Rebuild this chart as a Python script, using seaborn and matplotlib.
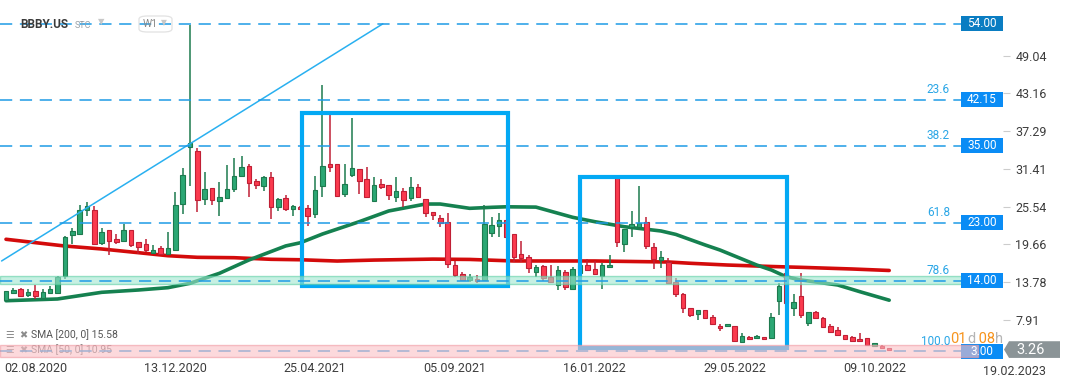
import numpy as np
import pandas as pd
import seaborn as sns
import matplotlib.pyplot as plt
import matplotlib.transforms as mtransforms
from matplotlib.patches import Rectangle, Polygon, FancyBboxPatch

# weekly candles, first candle = week of 05.07.2020
first_week = "2020-07-05"
opens = [10.93, 12.12, 12.65, 11.81, 12.34, 11.34, 12.12, 12.12, 14.72, 21.10,
         21.31, 24.95, 25.00, 19.91, 21.84, 20.44, 20.22, 21.84, 19.97, 19.66,
         18.35, 19.03, 18.15, 18.77, 25.98, 34.77, 34.19, 26.67, 28.38, 26.36,
         26.92, 28.22, 30.25, 31.85, 29.47, 28.70, 30.10, 25.40, 26.80, 25.20,
         25.47, 25.26, 24.33, 28.80, 32.17, 32.17, 27.45, 30.40, 31.34, 29.83,
         26.45, 29.00, 28.85, 27.07, 27.96, 26.82, 28.54, 26.67, 24.64, 23.70,
         23.08, 16.39, 14.98, 14.10, 14.30, 14.10, 21.46, 22.55, 23.44, 21.26,
         18.15, 17.63, 15.39, 16.28, 14.52, 13.32, 15.30, 12.65, 15.24, 16.39,
         15.81, 14.77, 16.07, 29.94, 19.66, 22.30, 22.30, 23.08, 19.19, 17.16,
         16.95, 13.74, 11.92, 9.69, 8.75, 9.38, 8.38, 6.93, 6.88, 6.93,
         4.49, 5.17, 5.01, 5.17, 5.01, 10.87, 15.14, 9.69, 11.56, 7.35,
         9.07, 8.13, 6.93, 6.31, 5.48, 5.17, 4.86, 5.01, 3.86, 3.82,
         3.46]
highs = [12.40, 12.80, 12.92, 12.65, 13.27, 12.65, 13.10, 14.70, 20.95, 22.15,
         25.73, 26.20, 25.57, 22.15, 21.90, 21.30, 22.80, 21.90, 20.00, 20.44,
         19.50, 19.40, 21.60, 27.85, 31.54, 53.80, 34.60, 30.97, 28.40, 29.40,
         32.00, 33.05, 33.36, 32.17, 29.80, 30.30, 30.97, 26.90, 27.30, 25.80,
         25.60, 25.80, 30.25, 44.47, 39.80, 32.20, 32.17, 39.28, 31.40, 31.65,
         30.20, 29.80, 28.90, 30.10, 28.40, 30.10, 29.00, 26.70, 24.70, 24.20,
         24.49, 17.00, 15.30, 15.10, 14.90, 25.78, 23.96, 24.50, 23.50, 21.30,
         20.17, 18.00, 16.50, 16.50, 16.43, 16.28, 15.65, 16.10, 16.50, 17.30,
         17.00, 16.70, 18.00, 30.20, 22.00, 24.85, 28.74, 23.90, 19.80, 18.60,
         17.47, 14.40, 12.00, 9.70, 9.50, 9.50, 8.60, 7.30, 7.30, 7.00,
         5.90, 5.30, 5.60, 5.17, 8.90, 13.58, 15.60, 11.92, 15.14, 9.07,
         9.30, 8.40, 7.20, 6.80, 5.50, 5.40, 5.89, 5.05, 4.30, 3.90,
         3.55]
lows = [10.90, 11.87, 11.50, 11.43, 11.14, 11.08, 12.00, 12.00, 14.30, 19.70,
        21.10, 24.07, 19.55, 19.55, 18.04, 19.75, 20.10, 19.30, 18.15, 18.46,
        18.30, 18.10, 18.10, 18.60, 24.38, 28.80, 24.70, 25.78, 25.78, 24.07,
        26.67, 27.85, 30.20, 27.07, 28.30, 27.90, 23.55, 24.90, 24.90, 24.10,
        25.00, 22.50, 23.80, 27.07, 30.97, 27.20, 27.00, 30.20, 27.54, 26.87,
        26.30, 28.30, 26.60, 26.30, 25.40, 26.40, 26.80, 23.90, 23.50, 22.30,
        15.92, 14.60, 14.00, 13.80, 13.60, 14.00, 20.84, 20.80, 20.60, 16.95,
        16.95, 15.20, 14.60, 13.90, 13.60, 12.54, 12.54, 12.60, 15.10, 15.60,
        14.90, 12.65, 16.00, 19.28, 18.50, 20.84, 21.88, 18.93, 15.80, 15.90,
        13.50, 11.45, 8.91, 8.40, 7.90, 8.10, 7.10, 6.10, 6.80, 4.50,
        4.49, 4.80, 4.90, 4.70, 5.00, 8.64, 10.00, 8.54, 8.13, 6.98,
        8.13, 6.60, 5.90, 5.40, 4.90, 4.60, 4.50, 3.95, 3.80, 3.40,
        3.20]
closes = [12.34, 12.54, 11.65, 12.18, 11.65, 12.23, 12.69, 14.60, 20.75, 21.68,
          24.95, 25.57, 19.75, 21.53, 20.22, 20.02, 21.93, 19.55, 19.19, 18.72,
          18.72, 18.15, 19.03, 25.78, 30.40, 35.44, 26.50, 28.27, 26.50, 26.98,
          28.27, 30.25, 31.70, 29.25, 28.85, 30.10, 25.50, 26.70, 25.20, 25.62,
          25.10, 24.07, 28.10, 31.80, 31.75, 27.23, 29.00, 31.50, 29.57, 27.07,
          28.85, 28.54, 27.29, 27.96, 26.56, 28.54, 26.98, 24.49, 24.17, 22.93,
          16.54, 14.83, 14.10, 14.52, 14.00, 22.77, 22.60, 23.44, 20.84, 17.73,
          17.57, 15.92, 16.07, 14.45, 13.74, 15.65, 12.96, 15.76, 16.39, 15.65,
          14.98, 16.39, 16.39, 19.97, 21.98, 22.77, 22.93, 19.44, 17.32, 17.63,
          13.58, 11.92, 9.69, 8.64, 9.38, 8.13, 7.24, 6.57, 7.20, 4.64,
          5.37, 4.86, 5.42, 4.86, 8.28, 13.16, 10.50, 10.62, 8.60, 9.07,
          8.13, 6.73, 6.04, 5.53, 4.95, 4.64, 4.55, 3.97, 4.24, 3.46,
          3.26]

# moving averages, sampled along the drawn lines (week index, value)
sma200_week = [0, 8, 13, 18, 22, 26, 31, 36, 40, 45, 50, 58, 63, 69, 80, 90, 93, 98, 104, 108, 115, 120]
sma200_value = [20.44, 19.39, 18.93, 18.35, 17.88, 17.63, 17.57, 17.32, 17.25, 17.05, 17.2,
                17.35, 17.3, 17.06, 17.06, 16.9, 16.7, 16.43, 16.2, 16.07, 15.81, 15.58]
sma50_week = [0, 7, 13, 18, 22, 25, 29, 33, 38, 40, 43, 48, 52, 57, 59, 63, 66, 68, 72, 77,
              80, 84, 89, 91, 95, 97, 102, 104, 106, 108, 113, 116, 120]
sma50_value = [10.87, 11.14, 12.18, 12.54, 12.9, 13.58, 15.14, 17.21, 19.4, 19.9, 21.26, 23.18,
               24.85, 25.93, 25.93, 25.26, 25.42, 25.5, 25.45, 23.86, 23.18, 22.4, 21.73, 21.2,
               19.55, 18.77, 16.43, 15.65, 14.6, 14.1, 13.32, 12.28, 10.95]

fib_levels = [54.00, 42.15, 35.00, 23.00, 14.00, 3.00]
fib_ratios = ["", "23.6", "38.2", "61.8", "78.6", "100.0"]
zone_green = (13.4, 14.7)
zone_red = (2.1, 4.0)
box_weeks = [(40.2, 68.2), (78.0, 106.1)]
box_prices = [(13.21, 40.06), (3.46, 30.09)]
trend_week = [-0.6, 51.2]
trend_price = [17.06, 54.0]

date_ticks = ["02.08.2020", "13.12.2020", "25.04.2021", "05.09.2021",
              "16.01.2022", "29.05.2022", "09.10.2022", "19.02.2023"]
price_ticks = [49.04, 43.16, 37.29, 31.41, 25.54, 19.66, 13.78, 7.91]
last_price = 3.26
sma_legend = [("SMA [200, 0] 15.58", "#555555"), ("SMA [50, 0] 10.95", "#777777")]

sns.set_style("white")
plt.rcParams["font.family"] = ["Roboto", "DejaVu Sans"]

W, H = 1072, 382
fig = plt.figure(figsize=(W / 100, H / 100), dpi=100)
ax = fig.add_axes([0, 24 / H, 1003 / W, 1 - 24 / H])


def fx(px):
    return px / W


def fy(py):
    return 1 - py / H


def wk(px):
    return (px - 6) / 7.36


blend = mtransforms.blended_transform_factory(fig.transFigure, ax.transData)

df = pd.DataFrame({"week": np.arange(len(opens)), "open": opens, "high": highs,
                   "low": lows, "close": closes})
df["up"] = df.close >= df.open
df["bottom"] = df[["open", "close"]].min(axis=1)
df["height"] = (df.close - df.open).abs().clip(lower=0.25)

for up, fc, ec in [(True, "#2ba774", "#1d7a4e"), (False, "#fb3a4e", "#c01f35")]:
    sub = df[df.up == up]
    ax.vlines(sub.week, sub.low, sub.high, color=ec, lw=1.1, zorder=4)
    ax.bar(sub.week, sub.height, bottom=sub.bottom, width=0.62, color=fc,
           edgecolor=ec, linewidth=0.8, zorder=4)

sns.lineplot(x=sma200_week, y=sma200_value, ax=ax, color="#d30b0b", lw=2.6, zorder=3)
sns.lineplot(x=sma50_week, y=sma50_value, ax=ax, color="#158150", lw=2.6, zorder=3)

# trend line and highlight boxes
ax.plot(trend_week, trend_price, color="#29b0f0", lw=1.1, zorder=5)
for (w0, w1), (p0, p1) in zip(box_weeks, box_prices):
    ax.add_patch(Rectangle((w0, p0), w1 - w0, p1 - p0, fill=False,
                           edgecolor="#03a9f4", lw=3, zorder=5))

# fibonacci levels
for lvl, ratio in zip(fib_levels, fib_ratios):
    ax.plot([0, 1], [lvl, lvl], transform=mtransforms.blended_transform_factory(
        fig.transFigure, ax.transData), color="#1e9be6", lw=1.1,
        dashes=(8, 5), zorder=7)
    if ratio:
        ax.annotate(ratio, xy=(fx(950), lvl), xycoords=blend, xytext=(0, 2.5),
                    textcoords="offset points", ha="right", va="bottom",
                    fontsize=8.5, color="#2aa6e6", zorder=9, annotation_clip=False)
    face = "#0a7dc2" if lvl == 54 else "#0a8cf5"
    ax.add_patch(Rectangle((fx(961), lvl - 1.17), 42 / W, 2.34, transform=blend,
                           facecolor=face, edgecolor="none", zorder=8, clip_on=False))
    ax.text(fx(982), lvl, f"{lvl:.2f}", transform=blend, ha="center", va="center",
            fontsize=8.5, color="white", zorder=9, clip_on=False)

# zones
ax.add_patch(Rectangle((0, zone_green[0]), fx(963), zone_green[1] - zone_green[0],
                       transform=blend, facecolor="#a0e6cf", alpha=0.6,
                       edgecolor="#5fcfa5", lw=1, zorder=6, clip_on=False))
ax.add_patch(Rectangle((0, zone_red[0]), fx(978), zone_red[1] - zone_red[0],
                       transform=blend, facecolor="#fac0c5", alpha=0.6,
                       edgecolor="#f09aa3", lw=1, zorder=8.5, clip_on=False))

# axes
ax.set_xlim(wk(0), wk(1003))
ax.set_ylim((370.5 - 358) / 6.42, 370.5 / 6.42)
for s in ax.spines.values():
    s.set_visible(False)
tick_weeks = [(pd.Timestamp(pd.to_datetime(d, format="%d.%m.%Y")) - pd.Timestamp(first_week)).days / 7
              for d in date_ticks]
ax.set_xticks(tick_weeks[:-1])
ax.set_xticklabels(date_ticks[:-1])
ax.text(tick_weeks[-1], -0.02, date_ticks[-1], transform=ax.get_xaxis_transform(),
        ha="center", va="top", fontsize=9, color="#3d3d3d", clip_on=False)
ax.tick_params(axis="x", length=0, pad=3, labelsize=9, labelcolor="#3d3d3d")
ax.yaxis.tick_right()
ax.set_yticks(price_ticks)
ax.set_yticklabels([f"{v:.2f}" for v in price_ticks])
ax.tick_params(axis="y", direction="out", length=5, width=0.8, color="#cccccc",
               pad=4, labelsize=9, labelcolor="#3d3d3d")
ax.grid(False)

# last price tag
p_top, p_bot = last_price + 1.3, last_price - 1.3
ax.add_patch(Polygon([(fx(1004), last_price), (fx(1009), p_top), (fx(1060), p_top),
                      (fx(1060), p_bot), (fx(1009), p_bot)], closed=True,
                     transform=blend, facecolor="#8b9497", edgecolor="none",
                     zorder=9, clip_on=False))
ax.text(fx(1031), last_price, f"{last_price:.2f}", transform=blend, ha="center",
        va="center", fontsize=10.5, color="white", zorder=10, clip_on=False)

# countdown
x = 950.5
for part, col in [("01", "#f7941d"), ("d", "#b5b5b5"), (" 08", "#f7941d"), ("h", "#b5b5b5")]:
    t = fig.text(fx(x), fy(343), part, fontsize=10.5, color=col, ha="left", va="baseline")
    fig.canvas.draw()
    x += t.get_window_extent().width

# header
ax.text(fx(20), fy(24), "BBBY.US", transform=fig.transFigure, fontsize=8.5,
        fontweight="bold", color="#3a3a3a", va="center", zorder=10)
ax.text(fx(75), fy(25), "STC", transform=fig.transFigure, fontsize=6.5,
        color="#9aa0a6", va="center", zorder=10)
ax.text(fx(98), fy(22), "▼", transform=fig.transFigure, fontsize=6,
        color="#c8c8c8", va="center", zorder=10)
ax.add_patch(FancyBboxPatch((fx(139), fy(32)), 33 / W, 16 / H,
                            boxstyle="round,pad=0,rounding_size=0.008",
                            transform=fig.transFigure, facecolor="none",
                            edgecolor="#e2e2e2", lw=0.9, zorder=10, clip_on=False))
ax.text(fx(143), fy(24), "W1", transform=fig.transFigure, fontsize=7.5,
        color="#8a8a8a", va="center", zorder=10)
ax.text(fx(161), fy(23), "▼", transform=fig.transFigure, fontsize=5.5,
        color="#c8c8c8", va="center", zorder=10)

# indicator legend
for k, (label, col) in enumerate(sma_legend):
    yy = 335 + 15 * k
    z = 10 if k == 0 else 6.5
    ax.text(fx(5), fy(yy), "☰", transform=fig.transFigure, fontsize=7,
            color="#8c8c8c", va="center", zorder=z)
    ax.text(fx(19), fy(yy), "✖", transform=fig.transFigure, fontsize=7,
            color="#8c8c8c", va="center", zorder=z)
    ax.text(fx(31), fy(yy), label, transform=fig.transFigure, fontsize=7.5,
            color=col, va="center", zorder=z)

fig.savefig("out.png", dpi=100)
